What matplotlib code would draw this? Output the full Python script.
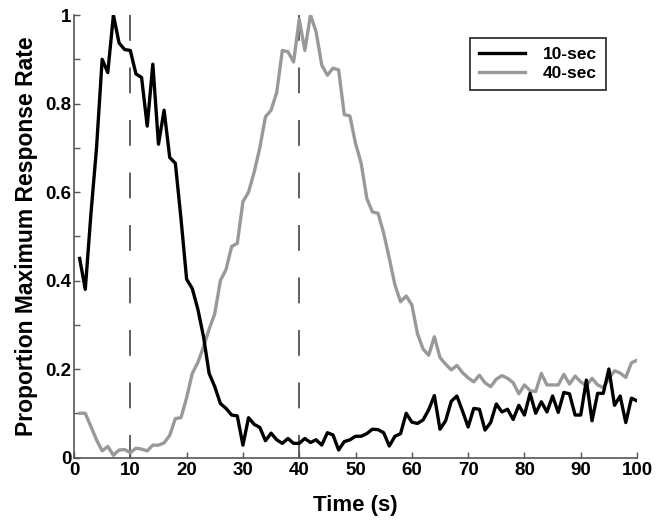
import matplotlib
matplotlib.use("Agg")
import matplotlib.pyplot as plt
import numpy as np

# time bins (s)
time_s = list(range(1, 101))

# 10-sec condition (black)
resp_10 = [0.45, 0.38, 0.55, 0.70, 0.90, 0.87, 1.00, 0.937, 0.922, 0.92,
           0.867, 0.859, 0.749, 0.889, 0.708, 0.785, 0.678, 0.665, 0.54, 0.403,
           0.382, 0.335, 0.273, 0.19, 0.16, 0.122, 0.111, 0.096, 0.094, 0.028,
           0.09, 0.075, 0.068, 0.038, 0.055, 0.04, 0.032, 0.043, 0.032, 0.032,
           0.043, 0.034, 0.04, 0.028, 0.056, 0.051, 0.017, 0.036, 0.04, 0.048,
           0.048, 0.054, 0.064, 0.063, 0.056, 0.026, 0.048, 0.054, 0.10, 0.08,
           0.077, 0.085, 0.108, 0.14, 0.064, 0.083, 0.127, 0.139, 0.105, 0.069,
           0.111, 0.109, 0.062, 0.079, 0.121, 0.103, 0.109, 0.086, 0.118, 0.096,
           0.145, 0.10, 0.126, 0.103, 0.139, 0.102, 0.147, 0.144, 0.096, 0.096,
           0.175, 0.083, 0.145, 0.145, 0.20, 0.118, 0.139, 0.079, 0.134, 0.128]

# 40-sec condition (gray)
resp_40 = [0.10, 0.10, 0.07, 0.04, 0.015, 0.025, 0.005, 0.017, 0.018, 0.011,
           0.021, 0.019, 0.015, 0.028, 0.028, 0.033, 0.05, 0.088, 0.09, 0.135,
           0.19, 0.215, 0.25, 0.29, 0.325, 0.40, 0.425, 0.477, 0.484, 0.578,
           0.60, 0.645, 0.70, 0.77, 0.785, 0.825, 0.92, 0.917, 0.894, 0.99,
           0.92, 1.00, 0.962, 0.887, 0.864, 0.88, 0.876, 0.775, 0.772, 0.71,
           0.665, 0.586, 0.555, 0.552, 0.507, 0.45, 0.39, 0.352, 0.365, 0.345,
           0.28, 0.245, 0.231, 0.273, 0.226, 0.211, 0.198, 0.208, 0.192, 0.18,
           0.171, 0.186, 0.169, 0.16, 0.177, 0.185, 0.179, 0.169, 0.144, 0.164,
           0.151, 0.149, 0.19, 0.164, 0.164, 0.164, 0.188, 0.166, 0.184, 0.171,
           0.162, 0.179, 0.164, 0.158, 0.179, 0.196, 0.191, 0.181, 0.214, 0.22]

criterion_times = [10, 40]
x_ticks = list(range(0, 101, 10))
y_ticks = [0, 0.2, 0.4, 0.6, 0.8, 1.0]
y_tick_labels = ["0", "0.2", "0.4", "0.6", "0.8", "1"]

plt.rcParams["font.family"] = ["Liberation Sans", "DejaVu Sans"]
plt.rcParams["font.weight"] = "bold"

fig = plt.figure(figsize=(6.62, 5.28), dpi=100)
ax = fig.add_axes([0.1118, 0.1335, 0.8505, 0.838])

for t in criterion_times:
    ax.plot([t, t], [1, 0], color="#444444", linewidth=1.2,
            linestyle=(0, (15.5, 16)), zorder=1)

ax.plot(time_s, resp_10, color="black", linewidth=2.4, label="10-sec", zorder=3)
ax.plot(time_s, resp_40, color="#999999", linewidth=2.4, label="40-sec", zorder=2)

ax.set_xlim(0, 100)
ax.set_ylim(0, 1)
ax.set_xticks(x_ticks)
ax.set_xticklabels([str(v) for v in x_ticks])
ax.set_yticks(y_ticks)
ax.set_yticklabels(y_tick_labels)
ax.set_yticks(np.arange(0.1, 1.0, 0.2), minor=True)

for side in ["top", "right"]:
    ax.spines[side].set_visible(False)
for side in ["left", "bottom"]:
    ax.spines[side].set_color("#555555")
    ax.spines[side].set_linewidth(1.2)

ax.tick_params(axis="both", which="both", direction="in", length=4,
               width=1.0, color="#555555", labelsize=13.5, pad=2)
ax.tick_params(axis="x", pad=3)

ax.set_xlabel("Time (s)", fontsize=16, fontweight="bold", labelpad=12)
ax.set_ylabel("Proportion Maximum Response Rate", fontsize=16.5,
              fontweight="bold", labelpad=5)

leg = ax.legend(loc="upper left", bbox_to_anchor=(0.703, 0.948),
                borderaxespad=0, fancybox=False, frameon=True,
                fontsize=12.5, handlelength=2.7, handletextpad=1.0,
                labelspacing=0.25, borderpad=0.5, markerfirst=True)
leg.get_frame().set_edgecolor("black")
leg.get_frame().set_linewidth(1.3)
for txt in leg.get_texts():
    txt.set_fontweight("bold")

fig.savefig("out.png", dpi=100)
